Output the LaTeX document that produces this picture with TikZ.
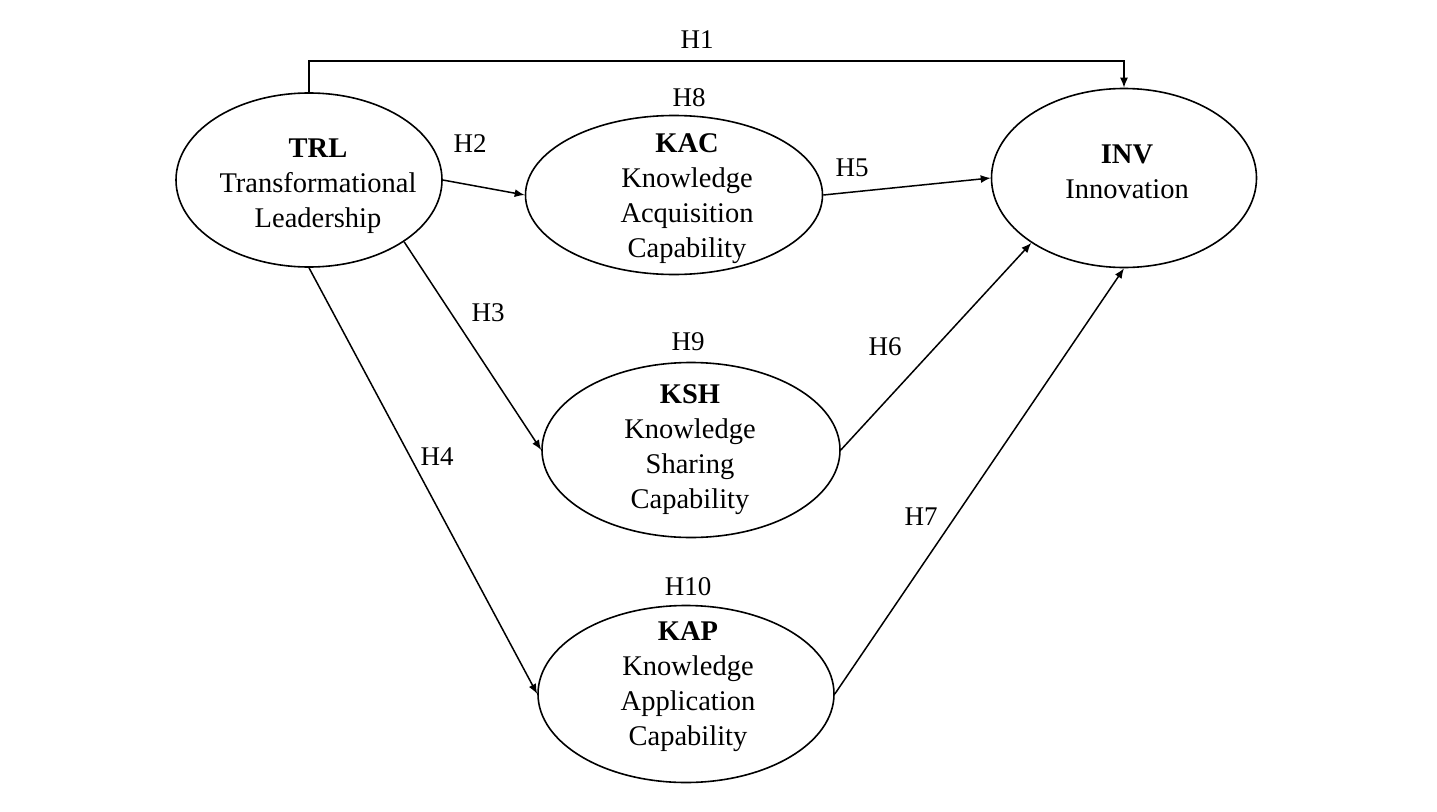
\documentclass[tikz,border=0pt]{standalone}
\usepackage{fontspec}
\setmainfont{Liberation Serif}
\usetikzlibrary{arrows.meta,shapes.geometric}
\begin{document}
\begin{tikzpicture}[x=1pt,y=-1pt,
  ell/.style={draw, ellipse, line width=1.6pt, inner sep=0pt},
  txt/.style={align=center, font=\fontsize{28.5}{35}\selectfont, inner sep=0pt},
  hyp/.style={font=\fontsize{27}{32}\selectfont, inner sep=0pt},
  arr/.style={line width=1.5pt, -{Latex[length=10pt,width=8pt]}}]
\useasboundingbox[fill=white] (0,0) rectangle (1437,811);

% ellipses
\node[ell, minimum width=266pt, minimum height=174pt] (trl) at (309,180) {};
\node[ell, minimum width=297pt, minimum height=159pt] (kac) at (674,195) {};
\node[ell, minimum width=265pt, minimum height=179pt] (inv) at (1124,178) {};
\node[ell, minimum width=298pt, minimum height=175pt] (ksh) at (691,450) {};
\node[ell, minimum width=296pt, minimum height=177pt] (kap) at (686,694) {};

% texts
\node[txt] (trlt) at (318,186) {\textbf{TRL}\\Transformational\\Leadership};
\node[txt] (kact) at (687,199) {\textbf{KAC}\\Knowledge\\Acquisition\\Capability};
\node[txt] (invt) at (1127,172) {\textbf{INV}\\Innovation};
\node[txt] (ksht) at (690,450) {\textbf{KSH}\\Knowledge\\Sharing\\Capability};
\node[txt] (kapt) at (688,687) {\textbf{KAP}\\Knowledge\\Application\\Capability};

% connectors
\draw[arr] (trl.north) -- ++(0,-31) -| (inv.north);
\draw[arr] (trl.east) -- (kac.west);
\draw[arr] (kac.east) -- (inv.west);
\draw[arr] (trl.-33) -- (ksh.west);
\draw[arr] (trl.south) -- (kap.west);
\draw[arr] (ksh.east) -- (inv.-145);
\draw[arr] (kap.east) -- (inv.south);

% hypothesis labels
\node[hyp] (h1) at (697,40) {H1};
\node[hyp] (h8) at (689,98) {H8};
\node[hyp] (h2) at (470,144) {H2};
\node[hyp] (h5) at (852,168) {H5};
\node[hyp] (h3) at (488,313) {H3};
\node[hyp] (h9) at (688,342) {H9};
\node[hyp] (h6) at (885,347) {H6};
\node[hyp] (h4) at (437,457) {H4};
\node[hyp] (h7) at (921,517) {H7};
\node[hyp] (h10) at (688,587) {H10};
\end{tikzpicture}
\end{document}
